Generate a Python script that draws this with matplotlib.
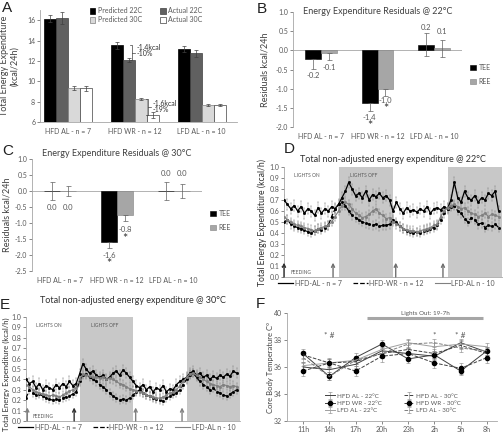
import numpy as np
import matplotlib.pyplot as plt

plt.rcParams['font.family'] = ['Lato', 'DejaVu Sans']
plt.rcParams['font.size'] = 5.5
TXT = '#595959'
AX = '#a6a6a6'
W, H = 503, 433

# ---- panel A data
groups = ['HFD AL - n = 7', 'HFD WR - n = 12', 'LFD AL - n = 10']
a_names = ['Predicted 22C', 'Actual 22C', 'Predicted 30C', 'Actual 30C']
pred22 = [16.15, 13.55, 13.2]
act22 = [16.25, 12.1, 12.75]
pred30 = [9.3, 8.25, 7.7]
act30 = [9.3, 6.65, 7.7]
pred22_err = [0.35, 0.35, 0.3]
act22_err = [0.6, 0.2, 0.35]
pred30_err = [0.2, 0.1, 0.1]
act30_err = [0.25, 0.3, 0.1]

# ---- panels B / C data
res_names = ['TEE', 'REE']
tee22 = [-0.22, -1.38, 0.15]
ree22 = [-0.07, -1.0, 0.05]
tee22_err = [0.27, 0.2, 0.3]
ree22_err = [0.17, 0.2, 0.23]
tee22_lbl = ['-0.2', '-1.4', '0.2']
ree22_lbl = ['-0.1', '-1.0', '0.1']

tee30 = [0.0, -1.6, 0.0]
ree30 = [0.0, -0.75, 0.0]
tee30_err = [0.28, 0.18, 0.28]
ree30_err = [0.17, 0.2, 0.23]
tee30_lbl = ['0.0', '-1.6', '0.0']
ree30_lbl = ['0.0', '-0.8', '0.0']

# ---- panels D / E data (kcal/h, every 45 min over 48 h)
ts_names = ['HFD-AL - n = 7', 'HFD-WR - n = 12', 'LFD-AL n - 10']
d_hfd_al = [0.70, 0.66, 0.62, 0.65, 0.60, 0.64, 0.58, 0.62, 0.60, 0.56, 0.63, 0.58, 0.62, 0.60, 0.64, 0.62,
            0.66, 0.72, 0.78, 0.86, 0.80, 0.74, 0.76, 0.72, 0.78, 0.70, 0.75, 0.73, 0.76, 0.72, 0.74, 0.70,
            0.60, 0.68, 0.62, 0.58, 0.63, 0.60, 0.61, 0.59, 0.62, 0.60, 0.64, 0.58, 0.62, 0.63, 0.61, 0.64,
            0.62, 0.70, 0.86, 0.72, 0.68, 0.78, 0.72, 0.70, 0.74, 0.68, 0.72, 0.70, 0.76, 0.74, 0.78, 0.60]
d_hfd_wr = [0.50, 0.52, 0.48, 0.46, 0.45, 0.44, 0.43, 0.41, 0.40, 0.42, 0.44, 0.43, 0.45, 0.47, 0.55, 0.62,
            0.66, 0.68, 0.65, 0.60, 0.56, 0.54, 0.52, 0.50, 0.49, 0.48, 0.47, 0.48, 0.46, 0.47, 0.47, 0.48,
            0.52, 0.50, 0.46, 0.44, 0.42, 0.41, 0.40, 0.41, 0.40, 0.42, 0.43, 0.44, 0.45, 0.47, 0.52, 0.58,
            0.62, 0.64, 0.65, 0.60, 0.58, 0.53, 0.50, 0.54, 0.52, 0.48, 0.49, 0.45, 0.47, 0.46, 0.48, 0.45]
d_lfd_al = [0.55, 0.52, 0.50, 0.48, 0.47, 0.46, 0.45, 0.44, 0.43, 0.42, 0.44, 0.45, 0.46, 0.47, 0.50, 0.55,
            0.60, 0.65, 0.68, 0.66, 0.62, 0.58, 0.56, 0.54, 0.55, 0.57, 0.60, 0.62, 0.58, 0.56, 0.53, 0.54,
            0.50, 0.48, 0.46, 0.44, 0.43, 0.42, 0.42, 0.41, 0.42, 0.43, 0.44, 0.45, 0.47, 0.48, 0.55, 0.60,
            0.63, 0.65, 0.66, 0.64, 0.62, 0.63, 0.60, 0.58, 0.57, 0.55, 0.56, 0.58, 0.55, 0.57, 0.56, 0.55]
e_hfd_al = [0.40, 0.36, 0.38, 0.32, 0.36, 0.30, 0.34, 0.32, 0.30, 0.35, 0.32, 0.36, 0.33, 0.38, 0.34, 0.36,
            0.45, 0.55, 0.50, 0.46, 0.48, 0.44, 0.42, 0.44, 0.40, 0.42, 0.46, 0.48, 0.44, 0.49, 0.46, 0.42,
            0.38, 0.34, 0.32, 0.35, 0.30, 0.33, 0.28, 0.32, 0.30, 0.34, 0.28, 0.31, 0.30, 0.35, 0.38, 0.40,
            0.42, 0.46, 0.48, 0.44, 0.46, 0.42, 0.44, 0.40, 0.43, 0.41, 0.44, 0.42, 0.45, 0.43, 0.48, 0.46]
e_hfd_wr = [0.22, 0.30, 0.27, 0.25, 0.26, 0.24, 0.22, 0.21, 0.20, 0.21, 0.20, 0.22, 0.23, 0.24, 0.26, 0.28,
            0.38, 0.44, 0.45, 0.42, 0.40, 0.38, 0.35, 0.33, 0.30, 0.27, 0.24, 0.22, 0.20, 0.21, 0.20, 0.22,
            0.25, 0.28, 0.30, 0.27, 0.25, 0.24, 0.22, 0.21, 0.20, 0.19, 0.22, 0.24, 0.26, 0.27, 0.30, 0.35,
            0.40, 0.44, 0.46, 0.42, 0.38, 0.35, 0.33, 0.30, 0.32, 0.28, 0.27, 0.25, 0.24, 0.26, 0.28, 0.30]
e_lfd_al = [0.35, 0.33, 0.30, 0.28, 0.27, 0.26, 0.25, 0.24, 0.25, 0.24, 0.23, 0.25, 0.27, 0.29, 0.30, 0.32,
            0.40, 0.45, 0.44, 0.43, 0.42, 0.42, 0.41, 0.42, 0.40, 0.41, 0.40, 0.38, 0.36, 0.35, 0.33, 0.31,
            0.30, 0.29, 0.28, 0.27, 0.25, 0.24, 0.23, 0.22, 0.22, 0.23, 0.25, 0.27, 0.28, 0.30, 0.34, 0.38,
            0.42, 0.45, 0.46, 0.44, 0.42, 0.40, 0.38, 0.36, 0.35, 0.34, 0.33, 0.35, 0.34, 0.33, 0.34, 0.33]
ts_err = [0.05, 0.04, 0.04]
hours = np.arange(64) * 0.75
lights_off = [(12, 24), (36, 48)]
d_feeding = [0, 10.8, 24.6, 35.0]
e_feeding = [0.3, 10.8, 24.6, 35.0]

# ---- panel F data
f_times = ['11h', '14h', '17h', '20h', '23h', '2h', '5h', '8h']
f_names = ['HFD AL - 22°C', 'HFD WR - 22°C', 'LFD AL - 22°C',
           'HFD AL - 30°C', 'HFD WR - 30°C', 'LFD AL - 30°C']
f_hfd_al_22 = [36.0, 35.8, 36.2, 37.2, 37.0, 36.8, 37.8, 37.1]
f_hfd_wr_22 = [37.0, 35.3, 36.7, 37.7, 36.6, 36.9, 35.7, 37.2]
f_lfd_al_22 = [36.1, 36.3, 36.5, 37.3, 37.8, 37.5, 37.7, 37.5]
f_hfd_al_30 = [36.9, 36.3, 36.4, 37.0, 37.3, 37.0, 37.6, 37.0]
f_hfd_wr_30 = [35.7, 36.3, 35.7, 36.8, 37.0, 36.3, 35.9, 36.7]
f_lfd_al_30 = [36.7, 35.3, 36.5, 37.0, 37.7, 37.8, 37.4, 37.2]
f_err = [0.3, 0.3, 0.3, 0.3, 0.4, 0.3]


def box(l, t, r, b):
    return [l / W, 1 - b / H, (r - l) / W, (b - t) / H]


def style(ax):
    for s in ['top', 'right']:
        ax.spines[s].set_visible(False)
    for s in ['left', 'bottom']:
        ax.spines[s].set_color(AX)
        ax.spines[s].set_linewidth(0.6)
    ax.tick_params(colors=TXT, labelsize=5, length=2, width=0.5, pad=1.5)


def ylabel_at(ax, rect_px, xpx, text, size, color, ypos=0.5):
    # xpx = pixel column of the right edge of the rotated label
    l, r = rect_px
    ax.set_ylabel(text, fontsize=size, color=color)
    ax.yaxis.set_label_coords((xpx - l) / (r - l), ypos)


fig = plt.figure(figsize=(W / 100, H / 100), dpi=100)

# ================= A
ax = fig.add_axes(box(40, 10, 237, 122))
style(ax)
x = np.arange(3)
bw = 0.18
a_series = [pred22, act22, pred30, act30]
a_errs = [pred22_err, act22_err, pred30_err, act30_err]
a_face = ['black', '#606060', '#d9d9d9', 'white']
a_edge = ['black', '#404040', '#808080', '#404040']
bars = []
for i in range(4):
    b = ax.bar(x + (i - 1.5) * bw, a_series[i], bw, color=a_face[i], edgecolor=a_edge[i],
               linewidth=0.5, yerr=a_errs[i], ecolor='#404040',
               error_kw=dict(elinewidth=0.5, capsize=1.5, capthick=0.5))
    bars.append(b)
ax.set_ylim(6, 17)
ax.set_xlim(-0.42, 2.53)
ax.set_yticks([6, 8, 10, 12, 14, 16])
ax.set_xticks(x)
ax.set_xticklabels(groups)
ax.tick_params(axis='x', length=0, pad=4)
ylabel_at(ax, (40, 237), 19, 'Total Energy Expenditure\n(kcal/24h)', 6.5, '#404040')
ax.legend([bars[0], bars[2], bars[1], bars[3]], [a_names[0], a_names[2], a_names[1], a_names[3]],
          ncol=2, fontsize=5, frameon=False, loc='upper left', bbox_to_anchor=(0.22, 1.08),
          handlelength=0.8, handleheight=0.8, columnspacing=2.6, labelspacing=0.3,
          handletextpad=0.4, labelcolor=TXT)


def bracket(ax, xb, ytop, ybot, txt1, txt2, y1, y2):
    ax.plot([xb - 0.03, xb, xb, xb - 0.03], [ytop, ytop, ybot, ybot], color='#404040', lw=0.5)
    ax.plot([xb, xb + 0.04], [(ytop + ybot) / 2] * 2, color='#404040', lw=0.5)
    ax.text(xb + 0.06, y1, txt1, fontsize=5, color='#303030', va='center')
    ax.text(xb + 0.06, y2, txt2, fontsize=5, color='#303030', va='center')


bracket(ax, 0.96, pred22[1], act22[1], '-1.4kcal', '-10%', 13.35, 12.7)
bracket(ax, 1.2, pred30[1], act30[1], '-1.6kcal', '-19%', 7.85, 7.25)

# ================= B / C


def residual_panel(rect_px, tee, ree, terr, rerr, tl, rl, lbl_y_t, lbl_y_r, star_y, title,
                   title_y, ylim, ticks, leg_xy, ylab_x):
    ax = fig.add_axes(box(*rect_px))
    style(ax)
    ax.spines['bottom'].set_visible(False)
    bw = 0.28
    bt = ax.bar(x - bw / 2, tee, bw, color='black', edgecolor='black', linewidth=0.4)
    br = ax.bar(x + bw / 2, ree, bw, color='#a6a6a6', edgecolor='#808080', linewidth=0.4)
    for vals, errs, off in [(tee, terr, -bw / 2), (ree, rerr, bw / 2)]:
        for i in range(3):
            v = vals[i]
            lo = errs[i]
            hi = errs[i] if v >= -0.05 else 0
            ax.errorbar(x[i] + off, v, yerr=[[lo], [hi]], fmt='none', ecolor='#606060',
                        elinewidth=0.5, capsize=1.8, capthick=0.5)
    ax.axhline(0, color=AX, lw=0.6, zorder=0)
    for i in range(3):
        ax.text(x[i] - bw / 2, lbl_y_t[i], tl[i], ha='center', va='center', fontsize=5.5, color=TXT)
        ax.text(x[i] + bw / 2, lbl_y_r[i], rl[i], ha='center', va='center', fontsize=5.5, color=TXT)
    ax.text(1 - bw / 2, star_y[0], '*', ha='center', va='center', fontsize=9, color='#303030')
    ax.text(1 + bw / 2, star_y[1], '*', ha='center', va='center', fontsize=9, color='#303030')
    ax.set_ylim(*ylim)
    ax.set_xlim(-0.5, 2.5)
    ax.set_yticks(ticks)
    ax.set_yticklabels(['%.1f' % t for t in ticks])
    ax.set_xticks(x)
    ax.set_xticklabels(groups)
    ax.tick_params(axis='x', length=0, pad=4)
    ylabel_at(ax, (rect_px[0], rect_px[2]), ylab_x, 'Residuals kcal/24h', 6.5, '#404040')
    ax.text(0.5, title_y, title, transform=ax.transAxes, ha='center', va='center',
            fontsize=6.5, color='#404040')
    fig.legend([bt, br], res_names, fontsize=5, frameon=False, loc='upper left',
               bbox_to_anchor=leg_xy, handlelength=0.8, handleheight=0.8,
               labelspacing=1.0, handletextpad=0.4, labelcolor=TXT)
    return ax


residual_panel((293, 12, 462, 127), tee22, ree22, tee22_err, ree22_err, tee22_lbl, ree22_lbl,
               [-0.65, -1.74, 0.6], [-0.44, -1.32, 0.48], [-1.97, -1.53],
               'Energy Expenditure Residuals @ 22°C', 1.0, (-2.0, 1.0),
               [-2.0, -1.5, -1.0, -0.5, 0.0, 0.5, 1.0], (464 / W, 1 - 58 / H), 269)
residual_panel((32, 159, 202, 271), tee30, ree30, tee30_err, ree30_err, tee30_lbl, ree30_lbl,
               [-0.53, -2.03, 0.56], [-0.53, -1.19, 0.56], [-2.28, -1.5],
               'Energy Expenditure Residuals @ 30°C', 1.05, (-2.5, 1.0),
               [-2.5, -2.0, -1.5, -1.0, -0.5, 0.0, 0.5, 1.0], (204 / W, 1 - 204 / H), 12)

# ================= D / E


def time_panel(rect_px, series, feeding, title, title_y, feed_colors, ylab_x, ylab_size, ylab_y):
    ax = fig.add_axes(box(*rect_px))
    style(ax)
    for a, b in lights_off:
        ax.axvspan(a, b, color='#c8c8c8', lw=0, zorder=0)
    styles = [dict(color='black', ls='-', lw=0.9),
              dict(color='black', ls='--', lw=0.9),
              dict(color='#808080', ls='-', lw=0.8)]
    handles = []
    for k in range(3):
        ax.errorbar(hours, series[k], yerr=ts_err[k], fmt='none', ecolor='#8c8c8c',
                    elinewidth=0.35, capsize=1.0, capthick=0.35, zorder=2)
        h, = ax.plot(hours, series[k], marker='s', ms=1.0, zorder=3, **styles[k])
        handles.append(h)
    for f, c in zip(feeding, feed_colors):
        ax.annotate('', xy=(f, 0.13), xytext=(f, 0.0),
                    arrowprops=dict(arrowstyle='->', color=c, lw=1.0, shrinkA=0, shrinkB=0))
    ax.text(2.2, 0.92, 'LIGHTS ON', fontsize=3.5, color=TXT, va='center')
    ax.text(14.5, 0.92, 'LIGHTS OFF', fontsize=3.5, color=TXT, va='center')
    ax.text(1.5, 0.04, 'FEEDING', fontsize=3.5, color=TXT, va='center')
    ax.set_xlim(0, 48)
    ax.set_ylim(0, 1.0)
    ax.set_yticks(np.arange(0, 1.01, 0.1))
    ax.set_yticklabels(['%.1f' % t for t in np.arange(0, 1.01, 0.1)])
    ax.set_xticks([])
    ylabel_at(ax, (rect_px[0], rect_px[2]), ylab_x, 'Total Energy Expenditure (kcal/h)',
              ylab_size, '#303030', ylab_y)
    ax.text(0.5, title_y, title, transform=ax.transAxes, ha='center', va='center',
            fontsize=6.5, color='#303030')
    ax.legend(handles, ts_names, ncol=3, fontsize=5, frameon=False, loc='upper center',
              bbox_to_anchor=(0.47, 0.0), handlelength=2.2, columnspacing=1.6,
              handletextpad=0.2, borderaxespad=0.0, labelcolor=TXT)
    for h in ax.get_legend().legend_handles:
        h.set_marker('')
    return ax


time_panel((284, 167, 502, 277), [d_hfd_al, d_hfd_wr, d_lfd_al], d_feeding,
           'Total non-adjusted energy expenditure @ 22°C', 1.07,
           ['#303030', '#707070', '#707070', '#707070'], 267, 6.2, 0.5)
time_panel((26, 317, 240, 421), [e_hfd_al, e_hfd_wr, e_lfd_al], e_feeding,
           'Total non-adjusted energy expenditure @ 30°C', 1.16,
           ['#808080', '#303030', '#808080', '#808080'], 10, 5.6, 0.45)

# ================= F
rect_f = (287, 313, 497, 421)
ax = fig.add_axes(box(*rect_f))
style(ax)
xf = np.arange(len(f_times))
f_series = [f_hfd_al_22, f_hfd_wr_22, f_lfd_al_22, f_hfd_al_30, f_hfd_wr_30, f_lfd_al_30]
f_styles = [dict(color='#404040', ls='-', marker=''),
            dict(color='#404040', ls='-', marker='o'),
            dict(color='#a0a0a0', ls='-', marker=''),
            dict(color='#404040', ls='--', marker=''),
            dict(color='#404040', ls='--', marker='o'),
            dict(color='#808080', ls='--', marker='')]
for k in range(6):
    ax.errorbar(xf, f_series[k], yerr=f_err[k], lw=0.7, ms=3, mfc='black', mec='black',
                elinewidth=0.4, capsize=1.2, capthick=0.4, ecolor='#808080',
                label=f_names[k], **f_styles[k])
ax.plot([2.45, 6.85], [39.6, 39.6], color='#a6a6a6', lw=2.2, solid_capstyle='butt')
ax.text(4.65, 39.75, 'Lights Out: 19-7h', ha='center', va='bottom', fontsize=4.5, color=TXT)
ax.text(1, 38.3, '* #', ha='center', va='center', fontsize=6, color=TXT)
ax.text(5, 38.4, '*', ha='center', va='center', fontsize=6, color=TXT)
ax.text(6, 38.3, '* #', ha='center', va='center', fontsize=6, color=TXT)
ax.set_xlim(-0.61, 7.38)
ax.set_ylim(32, 40)
ax.set_yticks([32, 34, 36, 38, 40])
ax.set_xticks(xf)
ax.set_xticklabels(f_times)
ylabel_at(ax, (rect_f[0], rect_f[2]), 274, 'Core Body Temperature C°', 5.5, '#404040')
hl, ll = ax.get_legend_handles_labels()
ax.legend(hl, ll, ncol=2, fontsize=4.5, frameon=False, loc='lower left',
          bbox_to_anchor=(0.17, 0.05), handlelength=1.6, columnspacing=3.5,
          labelspacing=0.3, handletextpad=0.3, labelcolor=TXT, borderaxespad=0)

# panel letters
for lbl, px, py in [('A', 2, 1), ('B', 257, 2), ('C', 2, 144), ('D', 284, 142),
                    ('E', 0, 298), ('F', 256, 297)]:
    fig.text(px / W, 1 - py / H, lbl, fontsize=11, va='top', ha='left',
             family=['Liberation Sans', 'DejaVu Sans'], color='#202020')

fig.savefig('out.png', dpi=100)
